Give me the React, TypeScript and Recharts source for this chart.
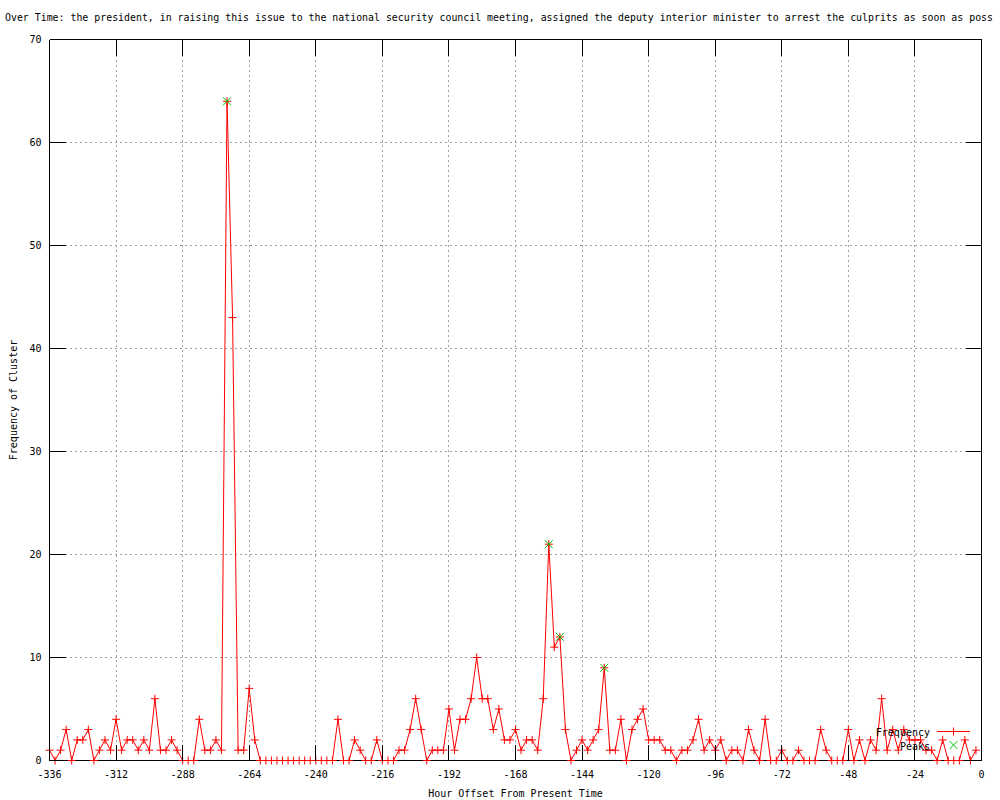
import {
  ComposedChart,
  Line,
  Scatter,
  XAxis,
  YAxis,
  CartesianGrid,
  ReferenceLine,
} from "recharts";

const TITLE =
  "Over Time: the president, in raising this issue to the national security council meeting, assigned the deputy interior minister to arrest the culprits as soon as poss";
const X_LABEL = "Hour Offset From Present Time";
const Y_LABEL = "Frequency of Cluster";
const SERIES_NAMES = ["Frequency", "Peaks"];

// one sample every 2 hours, starting at -336
const START_HOUR = -336;
const HOUR_STEP = 2;

// each row covers 24 hours (-336..-314, -312..-290, ...)
const FREQUENCY = [
  1, 0, 1, 3, 0, 2, 2, 3, 0, 1, 2, 1,
  4, 1, 2, 2, 1, 2, 1, 6, 1, 1, 2, 1,
  0, 0, 0, 4, 1, 1, 2, 1, 64, 43, 1, 1,
  7, 2, 0, 0, 0, 0, 0, 0, 0, 0, 0, 0,
  0, 0, 0, 0, 4, 0, 0, 2, 1, 0, 0, 2,
  0, 0, 0, 1, 1, 3, 6, 3, 0, 1, 1, 1,
  5, 1, 4, 4, 6, 10, 6, 6, 3, 5, 2, 2,
  3, 1, 2, 2, 1, 6, 21, 11, 12, 3, 0, 1,
  2, 1, 2, 3, 9, 1, 1, 4, 0, 3, 4, 5,
  2, 2, 2, 1, 1, 0, 1, 1, 2, 4, 1, 2,
  1, 2, 0, 1, 1, 0, 3, 1, 0, 4, 0, 0,
  1, 0, 0, 1, 0, 0, 0, 3, 1, 0, 0, 0,
  3, 0, 2, 0, 2, 1, 6, 1, 3, 1, 3, 2,
  2, 2, 1, 1, 0, 2, 0, 0, 0, 2, 0, 1,
];

const PEAK_HOURS = [-272, -156, -152, -136];
const PEAK_VALUES = [64, 21, 12, 9];

const X_TICKS = [-336, -312, -288, -264, -240, -216, -192, -168, -144, -120, -96, -72, -48, -24, 0];
const Y_TICKS = [0, 10, 20, 30, 40, 50, 60, 70];

const freqData = FREQUENCY.map((freq, i) => ({ hour: START_HOUR + i * HOUR_STEP, freq }));
const peakData = PEAK_HOURS.map((hour, i) => ({ hour, freq: PEAK_VALUES[i] }));

const W = 1000;
const H = 800;
const PLOT = { left: 49.5, top: 39.5, right: 981.5, bottom: 760.5 };
const TIC = 16;
const RED = "#ff0000";
const GREEN = "#00c000";
const FONT = "'DejaVu Sans Mono', monospace";

function XTick(props: any) {
  const { x, y, payload } = props;
  return (
    <g>
      <line x1={x} y1={y} x2={x} y2={y - TIC} stroke="#000" shapeRendering="crispEdges" />
      <line x1={x} y1={PLOT.top} x2={x} y2={PLOT.top + TIC} stroke="#000" shapeRendering="crispEdges" />
      <text x={x} y={y + 17.5} textAnchor="middle" fontSize={10} fontFamily={FONT} fill="#000">
        {payload.value}
      </text>
    </g>
  );
}

function YTick(props: any) {
  const { x, y, payload } = props;
  return (
    <g>
      <line x1={x} y1={y} x2={x + TIC} y2={y} stroke="#000" shapeRendering="crispEdges" />
      <line x1={PLOT.right} y1={y} x2={PLOT.right - TIC} y2={y} stroke="#000" shapeRendering="crispEdges" />
      <text x={x - 8} y={y + 3.5} textAnchor="end" fontSize={10} fontFamily={FONT} fill="#000">
        {payload.value}
      </text>
    </g>
  );
}

function plusDot(props: any) {
  const { cx, cy, index } = props;
  if (cx == null || cy == null) return <g key={`p${index}`} />;
  return (
    <path
      key={`p${index}`}
      d={`M${cx - 4},${cy}H${cx + 4}M${cx},${cy - 4}V${cy + 4}`}
      stroke={RED}
      strokeWidth={1}
      fill="none"
    />
  );
}

function crossShape(props: any) {
  const { cx, cy } = props;
  return (
    <path
      d={`M${cx - 4},${cy - 4}L${cx + 4},${cy + 4}M${cx - 4},${cy + 4}L${cx + 4},${cy - 4}`}
      stroke={GREEN}
      strokeWidth={1}
      fill="none"
    />
  );
}

export default function App() {
  return (
    <div style={{ position: "absolute", left: 0, top: 0, width: W, height: H, background: "#fff" }}>
      <ComposedChart
        width={W}
        height={H}
        data={freqData}
        margin={{ top: PLOT.top, right: W - PLOT.right, bottom: 0, left: 0 }}
      >
        <CartesianGrid stroke="#a0a0a0" strokeDasharray="2 3" shapeRendering="crispEdges" />
        <XAxis
          dataKey="hour"
          type="number"
          domain={[-336, 0]}
          ticks={X_TICKS}
          interval={0}
          height={H - PLOT.bottom}
          tickSize={0}
          tickMargin={0}
          tickLine={false}
          axisLine={{ stroke: "#000", shapeRendering: "crispEdges" }}
          tick={XTick}
        />
        <YAxis
          dataKey="freq"
          type="number"
          domain={[0, 70]}
          ticks={Y_TICKS}
          interval={0}
          width={PLOT.left}
          tickSize={0}
          tickMargin={0}
          tickLine={false}
          axisLine={{ stroke: "#000", shapeRendering: "crispEdges" }}
          tick={YTick}
        />
        <ReferenceLine y={70} stroke="#000" shapeRendering="crispEdges" />
        <ReferenceLine x={0} stroke="#000" shapeRendering="crispEdges" />
        <Line
          type="linear"
          dataKey="freq"
          name={SERIES_NAMES[0]}
          stroke={RED}
          strokeWidth={1}
          dot={plusDot}
          activeDot={false}
          isAnimationActive={false}
        />
        <Scatter
          data={peakData}
          dataKey="freq"
          name={SERIES_NAMES[1]}
          shape={crossShape}
          isAnimationActive={false}
        />
      </ComposedChart>
      <svg
        width={W}
        height={H}
        style={{ position: "absolute", left: 0, top: 0, pointerEvents: "none" }}
        fontFamily={FONT}
        fontSize={10}
      >
        <text x={5} y={21} fill="#000" fontSize={9.8} textLength={988} lengthAdjust="spacingAndGlyphs">
          {TITLE}
        </text>
        <text x={515.5} y={797} textAnchor="middle" fill="#000">
          {X_LABEL}
        </text>
        <text x={16.5} y={400} textAnchor="middle" fill="#000" transform="rotate(-90 16.5 400)">
          {Y_LABEL}
        </text>
        <g>
          <text x={930} y={736} textAnchor="end" fill="#000">
            {SERIES_NAMES[0]}
          </text>
          <line x1={937} y1={731.5} x2={970} y2={731.5} stroke={RED} strokeWidth={1} />
          <path d="M953.5,727.5V735.5" stroke={RED} strokeWidth={1} fill="none" />
          <text x={930} y={749.5} textAnchor="end" fill="#000">
            {SERIES_NAMES[1]}
          </text>
          <path d="M949.5,741L957.5,749M949.5,749L957.5,741" stroke={GREEN} strokeWidth={1} fill="none" />
        </g>
      </svg>
    </div>
  );
}
